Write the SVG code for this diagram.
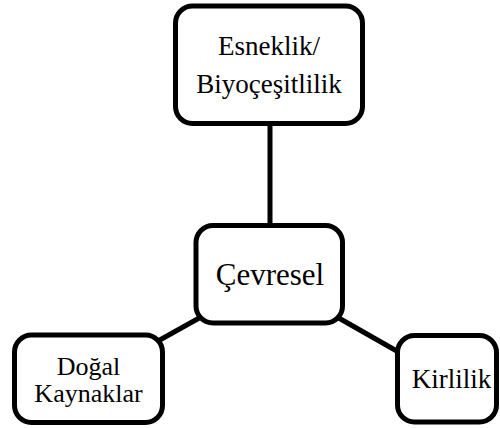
<svg xmlns="http://www.w3.org/2000/svg" width="500" height="428" viewBox="0 0 500 428">
  <style>
    .box { fill: #ffffff; stroke: #000000; stroke-width: 5; }
    .link { stroke: #000000; stroke-width: 5; fill: none; }
    text { fill: #000000; text-anchor: middle; }
  </style>
  <rect width="500" height="428" fill="#ffffff"/>
  <g id="connectors">
    <line class="link" x1="270" y1="123" x2="270" y2="226"/>
    <line class="link" x1="201" y1="317" x2="158" y2="341"/>
    <line class="link" x1="337" y1="317" x2="402" y2="354"/>
  </g>
  <g font-family="Liberation Serif, 'Times New Roman', serif">
    <g id="node-esneklik">
      <rect class="box" x="175.5" y="6" width="187" height="117.5" rx="17"/>
      <text x="269" y="55" font-size="27">Esneklik/</text>
      <text x="269" y="93" font-size="27">Biyoçeşitlilik</text>
    </g>
    <g id="node-cevresel">
      <rect class="box" x="196" y="225.5" width="146.5" height="97.5" rx="17"/>
      <text x="270" y="285" font-size="31">Çevresel</text>
    </g>
    <g id="node-dogal">
      <rect class="box" x="14.5" y="335" width="148" height="87.5" rx="17"/>
      <text x="88.5" y="375" font-size="26">Doğal</text>
      <text x="88.5" y="402" font-size="26">Kaynaklar</text>
    </g>
    <g id="node-kirlilik">
      <rect class="box" x="397.5" y="335.5" width="99" height="86.5" rx="17"/>
      <text x="451.5" y="388" font-size="27">Kirlilik</text>
    </g>
  </g>
</svg>
